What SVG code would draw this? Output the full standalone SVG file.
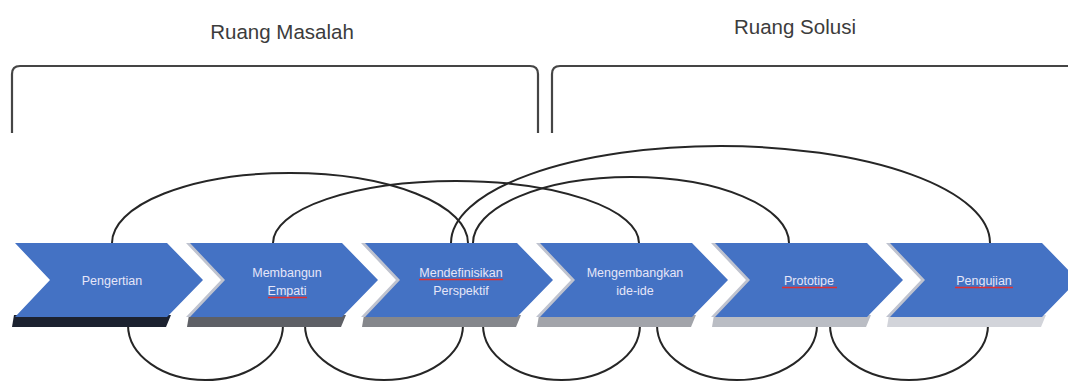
<svg xmlns="http://www.w3.org/2000/svg" xmlns:xlink="http://www.w3.org/1999/xlink" width="1068" height="383" viewBox="0 0 1068 383">
<style>
.bracket{fill:none;stroke:#454545;stroke-width:2.2;stroke-linejoin:round}
.head{font-family:"Liberation Sans",Arial,sans-serif;font-size:20.5px;fill:#3c3c3c;text-anchor:middle}
.arc{fill:none;stroke:#262626;stroke-width:2}
.chev{fill:#4472C4}
.edge{fill:#bfc3cf}
.lbl{font-family:"Liberation Sans",Arial,sans-serif;font-size:12.5px;fill:#e6e6f8;text-anchor:middle}
.spell{fill:none;stroke:#e03030;stroke-width:1.5}
</style>
<defs>
<path id="chev" d="M0,0 L152,0 L188,37 L152,74 L0,74 L35,37 Z"/>
<path id="band" d="M-1,72 L156,72 L151,84 L-3,84 Z"/>
</defs>
<rect width="1068" height="383" fill="#ffffff"/>

<g id="ruang-masalah">
<path class="bracket" d="M12,133 L12,74 Q12,66 20,66 L530,66 Q538,66 538,74 L538,133"/>
<text class="head" x="282" y="39">Ruang Masalah</text>
</g>
<g id="ruang-solusi">
<path class="bracket" d="M552,133 L552,74 Q552,66 560,66 L1068,66"/>
<text class="head" x="795" y="34">Ruang Solusi</text>
</g>

<g id="connectors">
<path class="arc" d="M112,243 A178,70 0 0 1 468,243"/>
<path class="arc" d="M273,243 A183,62 0 0 1 639,243"/>
<path class="arc" d="M451,243 A269.5,97 0 0 1 990,243"/>
<path class="arc" d="M473,243 A158,66 0 0 1 789,243"/>
<path class="arc" d="M128,325 A77.5,55 0 0 0 283,325"/>
<path class="arc" d="M305,325 A79,55 0 0 0 463,325"/>
<path class="arc" d="M483,325 A78.5,55 0 0 0 640,325"/>
<path class="arc" d="M657,325 A80,55 0 0 0 817,325"/>
<path class="arc" d="M830,325 A79,55 0 0 0 988,325"/>
</g>

<g id="pengertian">
<use xlink:href="#band" transform="translate(15,243)" fill="#1c2230"/>
<use xlink:href="#chev" class="chev" transform="translate(15,243)"/>
<text class="lbl" x="112" y="284.5">Pengertian</text>
</g>
<g id="membangun-empati">
<use xlink:href="#band" transform="translate(190,243)" fill="#5e6066"/>
<use xlink:href="#chev" class="edge" transform="translate(186,243)"/>
<use xlink:href="#chev" class="chev" transform="translate(190,243)"/>
<text class="lbl" x="287" y="276.5">Membangun</text>
<text class="lbl" x="287" y="294.5">Empati</text>
<path class="spell" d="M268,297.5 L307,297.5"/>
</g>
<g id="mendefinisikan-perspektif">
<use xlink:href="#band" transform="translate(365,243)" fill="#85878c"/>
<use xlink:href="#chev" class="edge" transform="translate(361,243)"/>
<use xlink:href="#chev" class="chev" transform="translate(365,243)"/>
<text class="lbl" x="461" y="276.5">Mendefinisikan</text>
<text class="lbl" x="461" y="294.5">Perspektif</text>
<path class="spell" d="M419,279.5 L503,279.5"/>
</g>
<g id="mengembangkan-ide-ide">
<use xlink:href="#band" transform="translate(540,243)" fill="#a2a4aa"/>
<use xlink:href="#chev" class="edge" transform="translate(536,243)"/>
<use xlink:href="#chev" class="chev" transform="translate(540,243)"/>
<text class="lbl" x="635" y="276.5">Mengembangkan</text>
<text class="lbl" x="635" y="294.5">ide-ide</text>
</g>
<g id="prototipe">
<use xlink:href="#band" transform="translate(715,243)" fill="#babdc4"/>
<use xlink:href="#chev" class="edge" transform="translate(711,243)"/>
<use xlink:href="#chev" class="chev" transform="translate(715,243)"/>
<text class="lbl" x="809" y="284.5">Prototipe</text>
<path class="spell" d="M782,287.5 L837,287.5"/>
</g>
<g id="pengujian">
<use xlink:href="#band" transform="translate(890,243)" fill="#d2d4da"/>
<use xlink:href="#chev" class="edge" transform="translate(886,243)"/>
<use xlink:href="#chev" class="chev" transform="translate(890,243)"/>
<text class="lbl" x="984" y="284.5">Pengujian</text>
<path class="spell" d="M955,287.5 L1013,287.5"/>
</g>
</svg>
